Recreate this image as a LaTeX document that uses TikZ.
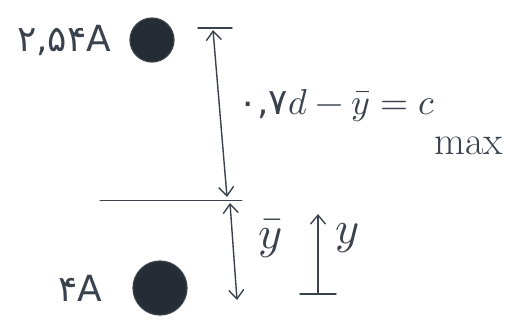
\documentclass[tikz,border=0pt]{standalone}
\usepackage{fontspec}
\usepackage{unicode-math}
\setmathfont{Latin Modern Math}
\newfontfamily\farsifont[Script=Arabic]{DejaVu Sans}
\usetikzlibrary{arrows.meta, positioning}
\definecolor{pencilgray}{RGB}{58,66,78}
\definecolor{bardark}{RGB}{38,44,52}

\begin{document}
\begin{tikzpicture}[x=1pt, y=-1pt,
  pencil/.style={draw=pencilgray, line width=1.4pt, line cap=round},
  bar/.style={circle, draw=pencilgray, fill=bardark, line width=1.2pt, inner sep=0pt},
  barb/.tip={Straight Barb[length=9pt, width=15pt, line width=1.4pt]},
  dimarrow/.style={pencil, barb-barb},
  lbl/.style={text=pencilgray, inner sep=0pt, font=\fontsize{36}{40}\selectfont}
]
  \useasboundingbox (0,0) rectangle (517,322);

  %=========================================================
  % 1. Barres d'armature
  %=========================================================
  \node[bar, minimum size=44pt] (topbar) at (152,40) {};
  \node[bar, minimum size=54pt] (botbar) at (160,288) {};
  \node[lbl, left=18pt of topbar] (toplbl) {\farsifont ۲,۵۴A};
  \node[lbl, left=30pt of botbar] (botlbl) {\farsifont ۴A};

  %=========================================================
  % 2. Cotes verticales
  %=========================================================
  \coordinate (tickL) at (198,28);
  \coordinate (tickR) at (232,28);
  \coordinate (dimtop) at (213,30);
  \coordinate (dimmid) at (227,197);
  \coordinate (axisL) at (100,200);
  \coordinate (axisR) at (242,200);
  \coordinate (ybtop) at (230,203);
  \coordinate (ybbot) at (237,300);
  \coordinate (ybase) at (318,293);
  \coordinate (ytip) at (318,214);
  \coordinate (baseL) at (300,294);
  \coordinate (baseR) at (336,294);

  \draw[pencil] (tickL) -- (tickR);
  \draw[dimarrow] (dimtop) -- (dimmid);
  \draw[pencil, line width=1pt] (axisL) -- (axisR);
  \draw[dimarrow] (ybtop) -- (ybbot);
  \draw[pencil, -barb] (ybase) -- (ytip);
  \draw[pencil] (baseL) -- (baseR);

  %=========================================================
  % 3. Textes
  %=========================================================
  \node[lbl, font=\fontsize{46}{50}\selectfont] (ybar) at (270,238) {$\bar{y}$};
  \node[lbl, font=\fontsize{46}{50}\selectfont] (ylbl) at (347,238) {$y$};
  \node[lbl, anchor=west] (cform) at (238,106)
    {$\mbox{\farsifont ۰,۷}d-\bar{y}=c$};
  \node[lbl, anchor=west, font=\fontsize{40}{44}\selectfont] (cmax) at (434,146)
    {$\mathrm{max}$};

\end{tikzpicture}
\end{document}
